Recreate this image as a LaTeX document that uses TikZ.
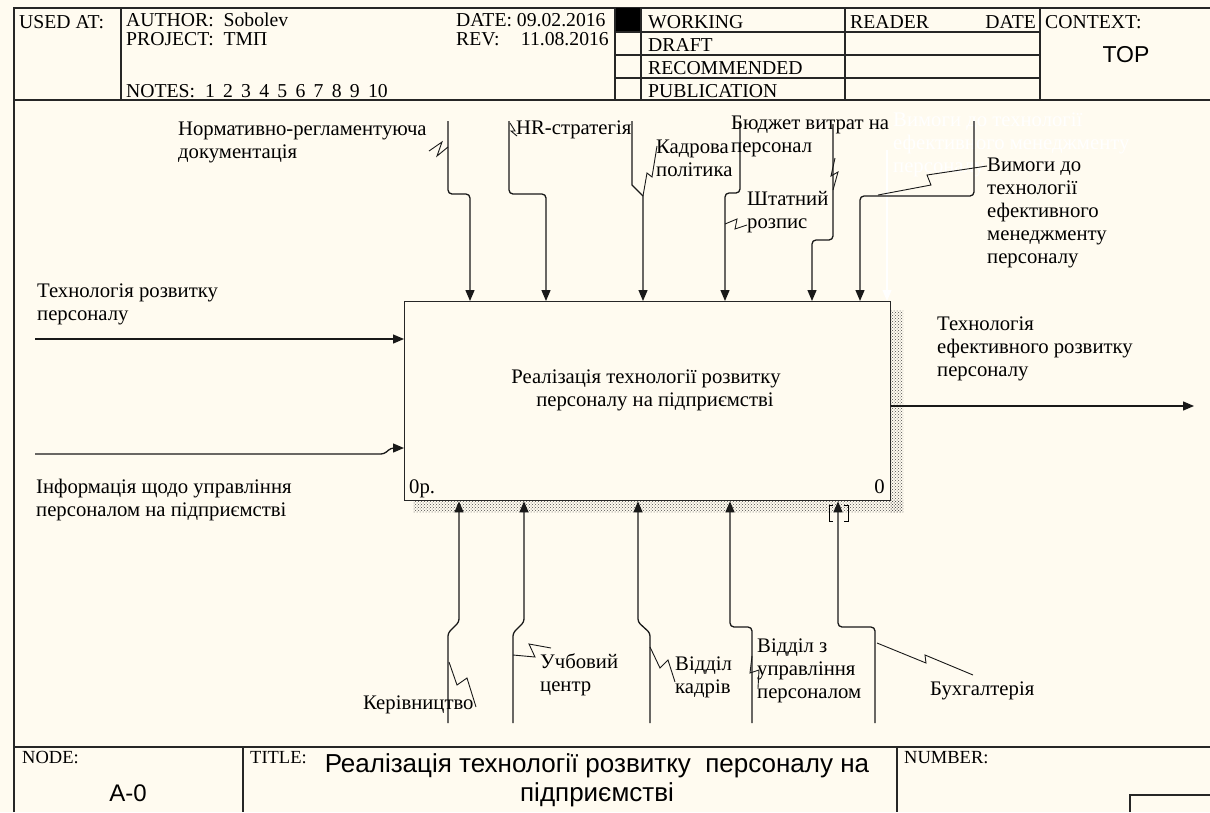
\documentclass[tikz,border=0pt]{standalone}
\usepackage{fontspec}
\setmainfont{Liberation Serif}
\newfontfamily\sansf{Liberation Sans}
\usetikzlibrary{arrows.meta,patterns,calc}
\definecolor{bgc}{HTML}{FFFBF0}
\newcommand\fs{\fontsize{20.7}{23}\selectfont}
\newcommand\fsh{\fontsize{19.7}{23}\selectfont}
\newcommand\fsm{\fontsize{18.5}{21}\selectfont}
\newcommand\nsp{\hskip 0.42em}
\begin{document}
\begin{tikzpicture}[x=1pt,y=-1pt,
  frame/.style={line width=1.3pt, draw=black!85},
  arr/.style={line width=1.3pt, draw=black!90, -{Triangle[length=11pt,width=9pt]}, rounded corners=4pt},
  sq/.style={line width=0.9pt, draw=black!90},
  lbl/.style={anchor=base west, inner sep=0pt, font=\fs, align=left},
  lble/.style={anchor=base east, inner sep=0pt, font=\fs},
  hl/.style={anchor=base west, inner sep=0pt, font=\fsh},
  hle/.style={anchor=base east, inner sep=0pt, font=\fsh},
  foot/.style={anchor=base west, inner sep=0pt, font=\fsm}]
\fill[bgc] (0,0) rectangle (1210,812);
\useasboundingbox (0,0) rectangle (1210,812);
% ---------- frame and header ----------
\draw[frame] (14,812) -- (14,8) -- (1210,8);
\draw[frame] (14,100) -- (1210,100);
\draw[frame] (121,8) -- (121,100);
\fill[black] (615,8) rectangle (641,32);
\draw[frame] (615,8) -- (615,100);
\draw[frame] (641,8) -- (641,100);
\draw[frame] (845,8) -- (845,100);
\draw[frame] (1040,8) -- (1040,100);
\draw[frame] (615,32) -- (1040,32);
\draw[frame] (615,55) -- (1040,55);
\draw[frame] (615,78) -- (1040,78);
\node[hl] (usedat) at (19,28) {USED AT:};
\node[hl] (author) at (126,26) {AUTHOR:\ \ Sobolev};
\node[hl] (project) at (126,45) {PROJECT:\ \ ТМП};
\node[hl] (notes) at (126,97) {NOTES:\ \ 1\nsp2\nsp3\nsp4\nsp5\nsp6\nsp7\nsp8\nsp9\nsp10};
\node[hl] (date) at (456,26) {DATE: 09.02.2016};
\node[hl] (rev) at (456,45) {REV:};
\node[hle] (revd) at (609,45) {11.08.2016};
\node[hl] (working) at (648,28) {WORKING};
\node[hl] (draft) at (648,51) {DRAFT};
\node[hl] (recom) at (648,74) {RECOMMENDED};
\node[hl] (publ) at (648,97) {PUBLICATION};
\node[hl] (reader) at (850,28) {READER};
\node[hle] (rdate) at (1036,28) {DATE};
\node[hl] (context) at (1045,28) {CONTEXT:};
\node[anchor=base, inner sep=0pt, font=\sansf\fontsize{23}{27}\selectfont] (top) at (1126,62) {TOP};
% ---------- footer ----------
\draw[frame] (14,747) -- (1210,747);
\draw[frame] (243,747) -- (243,812);
\draw[frame] (897,747) -- (897,812);
\draw[frame] (1130,812) -- (1130,795) -- (1210,795);
\node[foot] (node) at (22,763) {NODE:};
\node[anchor=base, inner sep=0pt, font=\sansf\fontsize{24}{28}\selectfont] (anode) at (128,801) {A-0};
\node[foot] (titlel) at (250,763) {TITLE:};
\node[anchor=base, inner sep=0pt, align=center, font=\sansf\fontsize{26}{29}\selectfont] (titlet) at (597,801) {Реалізація технології розвитку\ \ персоналу на\\підприємстві};
\node[foot] (number) at (904,763) {NUMBER:};
% ---------- activity box ----------
\fill[pattern=crosshatch dots, pattern color=black!70] (890,310) rectangle (903,512);
\fill[pattern=crosshatch dots, pattern color=black!70] (413,500) rectangle (903,512);
\node[draw=black!85, line width=1.3pt, fill=bgc, minimum width=486pt, minimum height=199pt, anchor=north west, inner sep=0pt] (main) at (404,301) {};
\node[anchor=base, inner sep=0pt, align=center, font=\fs] (maintext) at (646,406) {Реалізація технології розвитку\\\hspace*{18pt}персоналу на підприємстві};
\node[lbl] (num0p) at (409,493) {0р.};
\node[lble] (num0) at (885,493) {0};
% ---------- controls ----------
\node[lbl] (c1) at (178,158) {Нормативно-регламентуюча\\документація};
\draw[arr] (448,121) -- (448,194) -- (470,194) -- (470,0 |- main.north);
\draw[sq] (448,147) -- (437,156) -- (442,142) -- (429,151);
\node[lbl] (c2) at (516,134) {HR-стратегія};
\draw[arr] (509,121) -- (509,194) -- (546,194) -- (546,0 |- main.north);
\draw[sq] (510,123) -- (515,131) -- (511,131) -- (517,136);
\node[lbl] (c3) at (656,176) {Кадрова\\політика};
\draw[arr, rounded corners=0pt] (632,121) -- (632,185) -- (643,196) -- (643,0 |- main.north);
\draw[sq] (643,196) -- (647,173) -- (652,177) -- (657,146);
\node[lbl] (c4) at (747,228) {Штатний\\розпис};
\draw[arr] (740,121) -- (740,193) -- (725,193) -- (725,0 |- main.north);
\draw[sq] (725,224) -- (737,219) -- (735,229) -- (747,225);
\node[lbl] (c5) at (731,152) {Бюджет витрат на\\персонал};
\draw[arr] (833,124) -- (833,240) -- (812,240) -- (812,0 |- main.north);
\draw[sq] (833,190) -- (838,172) -- (831,176) -- (835,158);
\node[lbl, text=white] (c6w) at (893,172) {Вимоги до технології\\ефективного менеджменту\\персоналу};
\draw[arr, draw=white, rounded corners=0pt] (887,150) -- (887,0 |- main.north);
\node[lbl] (c6) at (987,263) {Вимоги до\\технології\\ефективного\\менеджменту\\персоналу};
\draw[arr] (974,121) -- (974,196) -- (860,196) -- (860,0 |- main.north);
\draw[sq] (878,195) -- (931,185) -- (927,175) -- (987,166);
% ---------- inputs ----------
\node[lbl] (i1) at (37,320) {Технологія розвитку\\персоналу};
\draw[arr, rounded corners=0pt] (35,339) -- (main.west |- 0,339);
\node[lbl] (i2) at (36,516) {Інформація щодо управління\\персоналом на підприємстві};
\draw[arr, rounded corners=3pt] (35,454) -- (384,454) -- (391,448) -- (main.west |- 0,448);
% ---------- output ----------
\node[lbl] (o1) at (937,376) {Технологія\\ефективного розвитку\\персоналу};
\draw[arr, rounded corners=0pt] (main.east |- 0,406) -- (1194,406);
% ---------- mechanisms ----------
\draw[arr, rounded corners=3pt] (448,723) -- (448,633) -- (459,622) -- (459,0 |- main.south);
\node[lbl] (m1) at (363,709) {Керівництво};
\draw[sq] (449,662) -- (457,685) -- (467,678) -- (476,707);
\draw[arr, rounded corners=3pt] (513,723) -- (513,633) -- (524,622) -- (524,0 |- main.south);
\node[lbl] (m2) at (540,691) {Учбовий\\центр};
\draw[sq] (513,655) -- (535,657) -- (529,644) -- (551,648);
\draw[arr, rounded corners=3pt] (650,723) -- (650,633) -- (638,622) -- (638,0 |- main.south);
\node[lbl] (m3) at (675,693) {Відділ\\кадрів};
\draw[sq] (650,647) -- (660,668) -- (668,660) -- (675,682);
\draw[arr] (752,723) -- (752,627) -- (730,627) -- (730,0 |- main.south);
\node[lbl] (m4) at (757,698) {Відділ з\\управління\\персоналом};
\draw[sq] (752,656) -- (750,673) -- (759,670) -- (758,688);
\draw[arr] (875,723) -- (875,627) -- (838,627) -- (838,0 |- main.south);
\node[lbl] (m5) at (930,695) {Бухгалтерія};
\draw[sq] (877,643) -- (926,663) -- (925,655) -- (973,675);
\draw[line width=1pt] (833,505) -- (829,505) -- (829,521) -- (833,521);
\draw[line width=1pt] (844,505) -- (848,505) -- (848,521) -- (844,521);
\end{tikzpicture}
\end{document}
